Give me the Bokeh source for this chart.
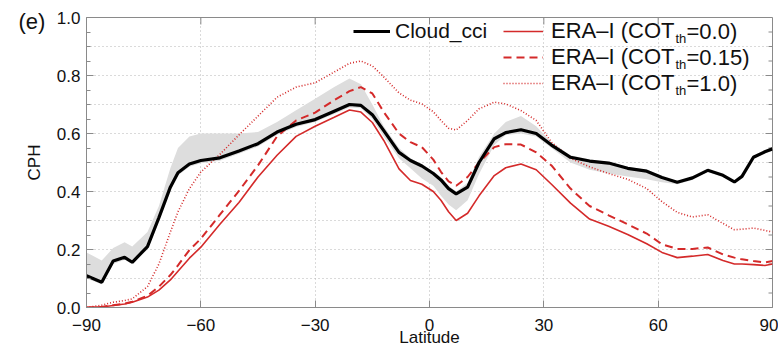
import math
from bokeh.plotting import figure
from bokeh.models import FixedTicker, Range1d, Legend, LegendItem, Label
from bokeh.embed import file_html
from bokeh.resources import INLINE

# ---------------- data ----------------
lat = [-90, -86, -83, -80, -78, -74, -71, -68, -66, -63,
       -60, -55, -50, -45, -40, -35, -30, -25, -21, -18,
       -15, -12, -8, -5, -2, 1, 3, 5, 7, 10,
       13, 17, 20, 24, 28, 32, 37, 42, 47, 52,
       57, 61, 65, 69, 73, 77, 80, 82, 85, 88, 90]

cloud_cci = [0.110, 0.087, 0.160, 0.173, 0.156, 0.210, 0.310, 0.415, 0.465, 0.495,
             0.507, 0.516, 0.540, 0.565, 0.605, 0.632, 0.648, 0.677, 0.700, 0.697,
             0.665, 0.610, 0.535, 0.507, 0.488, 0.462, 0.440, 0.410, 0.392, 0.415,
             0.500, 0.582, 0.603, 0.613, 0.600, 0.560, 0.518, 0.505, 0.498, 0.480,
             0.470, 0.448, 0.432, 0.447, 0.473, 0.456, 0.433, 0.452, 0.518, 0.537, 0.547]

cci_upper = [0.190, 0.162, 0.205, 0.225, 0.210, 0.260, 0.350, 0.480, 0.550, 0.590,
             0.600, 0.600, 0.600, 0.605, 0.640, 0.680, 0.720, 0.760, 0.790, 0.770,
             0.700, 0.625, 0.550, 0.515, 0.495, 0.470, 0.450, 0.420, 0.400, 0.430,
             0.520, 0.600, 0.640, 0.660, 0.625, 0.570, 0.525, 0.510, 0.502, 0.485,
             0.475, 0.452, 0.436, 0.450, 0.477, 0.460, 0.437, 0.456, 0.522, 0.541, 0.551]

cci_lower = [0.100, 0.080, 0.150, 0.165, 0.150, 0.200, 0.300, 0.405, 0.455, 0.485,
             0.497, 0.506, 0.530, 0.555, 0.595, 0.622, 0.640, 0.667, 0.690, 0.687,
             0.650, 0.590, 0.515, 0.480, 0.445, 0.420, 0.385, 0.355, 0.335, 0.370,
             0.460, 0.560, 0.595, 0.600, 0.590, 0.550, 0.500, 0.475, 0.462, 0.452,
             0.442, 0.432, 0.425, 0.440, 0.468, 0.450, 0.428, 0.447, 0.513, 0.532, 0.542]

era_cot00 = [0.000, 0.002, 0.007, 0.012, 0.018, 0.036, 0.060, 0.095, 0.125, 0.170,
             0.208, 0.287, 0.362, 0.450, 0.525, 0.590, 0.625, 0.656, 0.681, 0.674,
             0.638, 0.576, 0.478, 0.438, 0.425, 0.400, 0.370, 0.330, 0.300, 0.325,
             0.385, 0.455, 0.482, 0.495, 0.475, 0.425, 0.360, 0.305, 0.280, 0.252,
             0.220, 0.190, 0.172, 0.177, 0.183, 0.162, 0.150, 0.150, 0.148, 0.145, 0.150]

era_cot015 = [0.000, 0.002, 0.008, 0.013, 0.020, 0.040, 0.072, 0.112, 0.145, 0.198,
              0.237, 0.320, 0.402, 0.490, 0.590, 0.645, 0.672, 0.715, 0.746, 0.760,
              0.738, 0.674, 0.600, 0.570, 0.553, 0.510, 0.468, 0.435, 0.420, 0.450,
              0.500, 0.553, 0.563, 0.562, 0.535, 0.490, 0.410, 0.350, 0.318, 0.287,
              0.255, 0.218, 0.202, 0.202, 0.207, 0.183, 0.172, 0.166, 0.160, 0.155, 0.160]

era_cot10 = [0.000, 0.008, 0.018, 0.024, 0.030, 0.072, 0.150, 0.260, 0.330, 0.410,
             0.467, 0.528, 0.595, 0.660, 0.725, 0.760, 0.775, 0.812, 0.842, 0.850,
             0.833, 0.795, 0.740, 0.715, 0.702, 0.675, 0.645, 0.618, 0.612, 0.645,
             0.685, 0.708, 0.702, 0.679, 0.645, 0.570, 0.515, 0.485, 0.462, 0.442,
             0.410, 0.365, 0.328, 0.312, 0.320, 0.290, 0.268, 0.270, 0.274, 0.266, 0.260]

x_ticks = [-90, -60, -30, 0, 30, 60, 90]
x_tick_labels = ["\u221290", "\u221260", "\u221230", "0", "30", "60", "90"]
y_ticks = [0.0, 0.2, 0.4, 0.6, 0.8, 1.0]
y_tick_labels = ["0.0", "0.2", "0.4", "0.6", "0.8", "1.0"]
y_minor = [0.05, 0.1, 0.15, 0.25, 0.3, 0.35, 0.45, 0.5, 0.55,
           0.65, 0.7, 0.75, 0.85, 0.9, 0.95]
x_grid = [-60, -30, 0, 30, 60]
y_grid = [0.1, 0.2, 0.3, 0.4, 0.5, 0.6, 0.7, 0.8, 0.9]

era_labels = ["=0.0)", "=0.15)", "=1.0)"]

# ---------------- styling ----------------
FONT = "Liberation Sans"
RED = "#d42a2a"
FRAME = "#8a8a8a"
TXT = "#111111"

p = figure(width=778, height=351, x_range=Range1d(-90, 90), y_range=Range1d(0, 1),
           output_backend="svg", toolbar_location=None,
           min_border_left=86, min_border_right=6, min_border_top=17, min_border_bottom=44,
           background_fill_color="white", border_fill_color="white")
p.outline_line_color = FRAME
p.outline_line_width = 1

# panel tag "(e)" as the title, pulled into the top-left corner
p.title.text = "(e)"
p.title.text_font = FONT
p.title.text_font_size = "22px"
p.title.text_font_style = "normal"
p.title.text_color = TXT
p.title.align = "left"
p.title.offset = -68
p.title.standoff = -32

# axes
p.xaxis.ticker = FixedTicker(ticks=x_ticks, minor_ticks=[])
p.xaxis.major_label_overrides = dict(zip(x_ticks, x_tick_labels))
p.yaxis.ticker = FixedTicker(ticks=y_ticks, minor_ticks=y_minor)
p.yaxis.major_label_overrides = dict(zip(y_ticks, y_tick_labels))
p.xaxis.axis_label = "Latitude"
p.yaxis.axis_label = "CPH"

for ax in (p.xaxis[0], p.yaxis[0]):
    ax.axis_line_color = FRAME
    ax.major_tick_line_color = FRAME
    ax.minor_tick_line_color = FRAME
    ax.major_tick_in = 7
    ax.major_tick_out = 0
    ax.minor_tick_in = 4
    ax.minor_tick_out = 0
    ax.major_label_text_font = FONT
    ax.major_label_text_font_size = "17px"
    ax.major_label_text_color = TXT
    ax.axis_label_text_font = FONT
    ax.axis_label_text_font_size = "17px"
    ax.axis_label_text_font_style = "normal"
    ax.axis_label_text_color = TXT

p.xaxis.major_label_standoff = 11
p.xaxis.axis_label_standoff = -6
p.yaxis.major_label_standoff = 6
p.yaxis.axis_label_standoff = 10

# mirrored tick marks on the right and top edges of the frame
p.ray(x=[90] * len(y_ticks), y=y_ticks, length=7, length_units="screen", angle=math.pi,
      line_color=FRAME, line_width=1)
p.ray(x=[90] * len(y_minor), y=y_minor, length=4, length_units="screen", angle=math.pi,
      line_color=FRAME, line_width=1)
p.ray(x=x_grid, y=[1.0] * len(x_grid), length=7, length_units="screen", angle=-math.pi / 2,
      line_color=FRAME, line_width=1)

# grid
p.xgrid.ticker = FixedTicker(ticks=x_grid)
p.ygrid.ticker = FixedTicker(ticks=y_grid)
for g in (p.xgrid[0], p.ygrid[0]):
    g.grid_line_color = "#b4b4b4"
    g.grid_line_dash = "1 3"
    g.grid_line_width = 1

# data
p.varea(x=lat, y1=cci_lower, y2=cci_upper, fill_color="#dddddd", fill_alpha=1.0)
r10 = p.line(lat, era_cot10, line_color=RED, line_width=1.6, line_dash="1 2")
r015 = p.line(lat, era_cot015, line_color=RED, line_width=2, line_dash="8 5")
r00 = p.line(lat, era_cot00, line_color=RED, line_width=1.6)
rcci = p.line(lat, cloud_cci, line_color="black", line_width=3.2)

# legends (row pitch fixed at 26 px)
ROW = 26
leg_common = dict(border_line_color=None, background_fill_alpha=0, margin=0, padding=0,
                  label_text_font=FONT, label_text_color=TXT,
                  label_height=ROW, glyph_height=ROW, spacing=0)
leg1 = Legend(items=[LegendItem(label="Cloud_cci", renderers=[rcci])],
              location=(267, 290 - 1 - ROW), glyph_width=37, label_standoff=5,
              label_text_font_size="21px", **leg_common)
leg2_bottom = 290 - 1 - 3 * ROW
leg2 = Legend(items=[LegendItem(label="ERA\u2013I (COT", renderers=[r00]),
                     LegendItem(label="ERA\u2013I (COT", renderers=[r015]),
                     LegendItem(label="ERA\u2013I (COT", renderers=[r10])],
              location=(417, leg2_bottom), glyph_width=40, label_standoff=8,
              label_text_font_size="22px", **leg_common)
p.add_layout(leg1)
p.add_layout(leg2)

text_x0 = 417 + 40 + 8
main_w = 124.0
sub_w = 11.0
for i, tail in enumerate(era_labels):
    yc = 290 - 1 - ROW / 2 - ROW * i
    p.add_layout(Label(x=text_x0 + main_w, y=yc - 7, x_units="screen", y_units="screen",
                       text="th", text_font=FONT, text_font_size="13px", text_color=TXT,
                       text_baseline="middle"))
    p.add_layout(Label(x=text_x0 + main_w + sub_w, y=yc, x_units="screen", y_units="screen",
                       text=tail, text_font=FONT, text_font_size="22px", text_color=TXT,
                       text_baseline="middle"))

open("out.html", "w").write(file_html(p, INLINE))
